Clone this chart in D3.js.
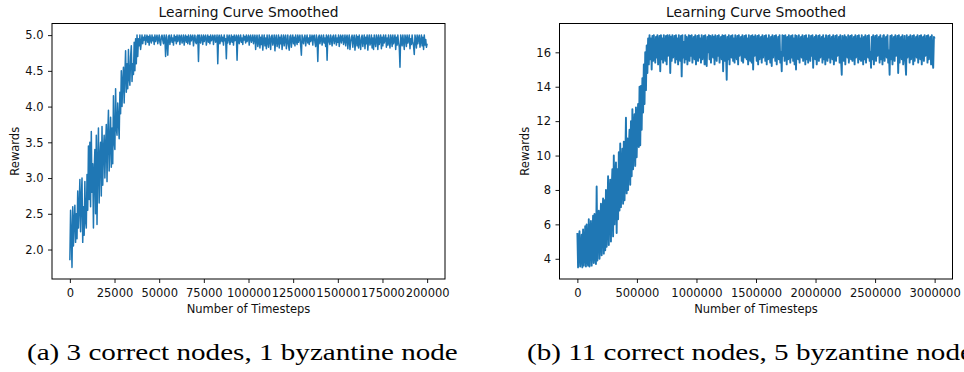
<!DOCTYPE html>
<html>
<head>
<meta charset="utf-8">
<script src="https://cdn.jsdelivr.net/npm/d3@7"></script>
<style>
  body { margin: 0; background: #fff; }
  svg { display: block; }
</style>
</head>
<body>
<svg id="chart" width="964" height="372"></svg>
<script>
const chartTitle = 'Learning Curve Smoothed';
const xLabel = 'Number of Timesteps';
const yLabel = 'Rewards';
const captionA = '(a) 3 correct nodes, 1 byzantine node';
const captionB = '(b) 11 correct nodes, 5 byzantine nodes';

// panel (a): one reading every 400 timesteps, 0 .. 200000
const stepA = 400;
const rewardsA = [
  1.85, 2.55, 2.2, 1.75, 2.6, 2.05, 2.4, 2.62, 2.1, 2.5,
  2.15, 2.82, 2.3, 2.6, 2.98, 2.25, 2.7, 3.0, 2.1, 2.6,
  2.2, 2.95, 2.4, 2.3, 3.05, 2.55, 3.45, 2.7, 3.5, 2.6,
  3.65, 2.8, 3.2, 2.3, 3.1, 3.4, 2.5, 3.6, 2.35, 3.2,
  3.7, 2.65, 3.3, 3.5, 2.75, 3.72, 2.9, 3.4, 3.6, 3.0,
  3.45, 3.75, 2.95, 3.6, 3.95, 3.1, 3.5, 3.85, 3.15, 3.7,
  3.2, 4.15, 3.5, 3.4, 4.25, 3.7, 3.6, 4.05, 3.8, 3.55,
  4.2, 3.9, 4.5, 4.0, 4.35, 4.55, 4.05, 4.45, 4.78, 4.2,
  4.6, 4.25, 4.8, 4.4, 4.3, 4.7, 4.85, 4.35, 4.6, 4.45,
  4.9, 4.5, 4.95, 4.6, 5.0, 4.7, 4.95, 4.85, 5.0, 4.8,
  4.9, 5.0, 4.88, 4.97, 4.93, 5.0, 4.87, 4.95, 5.0, 4.9,
  4.98, 4.86, 5.0, 4.94, 4.89, 5.0, 4.92, 4.97, 4.87, 5.0,
  4.91, 4.96, 5.0, 4.88, 4.94, 5.0, 4.9, 4.86, 4.98, 5.0,
  4.93, 4.88, 5.0, 4.95, 4.7, 5.0, 4.9, 4.72, 4.98, 5.0,
  4.87, 4.94, 5.0, 4.9, 4.96, 4.86, 5.0, 4.92, 4.98, 4.88,
  5.0, 4.91, 4.95, 5.0, 4.87, 4.97, 5.0, 4.89, 4.93, 5.0,
  4.86, 4.96, 5.0, 4.9, 4.98, 4.88, 5.0, 4.94, 4.87, 5.0,
  4.92, 4.97, 5.0, 4.85, 4.95, 5.0, 4.9, 4.88, 4.98, 5.0,
  4.63, 5.0, 4.93, 4.89, 5.0, 4.96, 4.87, 5.0, 4.91, 4.97,
  5.0, 4.86, 4.94, 5.0, 4.9, 4.98, 4.88, 5.0, 4.92, 4.95,
  5.0, 4.87, 4.97, 5.0, 4.9, 4.93, 5.0, 4.6, 4.96, 5.0,
  4.88, 4.94, 5.0, 4.91, 4.97, 4.86, 5.0, 4.92, 4.95, 4.67,
  5.0, 4.89, 4.96, 5.0, 4.87, 4.93, 5.0, 4.9, 4.98, 4.86,
  5.0, 4.92, 4.95, 5.0, 4.65, 4.97, 5.0, 4.88, 4.94, 5.0,
  4.9, 4.96, 4.87, 5.0, 4.93, 4.98, 4.89, 5.0, 4.91, 4.95,
  5.0, 4.86, 4.97, 5.0, 4.9, 4.94, 5.0, 4.88, 4.96, 5.0,
  4.8, 4.95, 5.0, 4.84, 4.9, 5.0, 4.82, 4.97, 4.87, 5.0,
  4.79, 4.93, 5.0, 4.85, 4.96, 4.81, 5.0, 4.9, 4.83, 5.0,
  4.94, 4.8, 4.98, 5.0, 4.86, 4.92, 5.0, 4.78, 4.95, 5.0,
  4.84, 4.9, 5.0, 4.82, 4.97, 4.88, 5.0, 4.8, 4.93, 5.0,
  4.85, 4.96, 5.0, 4.81, 4.91, 5.0, 4.86, 4.79, 4.98, 5.0,
  4.83, 4.94, 5.0, 4.88, 4.97, 4.85, 5.0, 4.92, 4.87, 5.0,
  4.9, 4.96, 5.0, 4.86, 4.72, 5.0, 4.93, 4.88, 4.97, 5.0,
  4.85, 4.94, 5.0, 4.89, 4.96, 4.87, 5.0, 4.91, 4.95, 5.0,
  4.86, 4.98, 5.0, 4.9, 4.84, 5.0, 4.93, 4.63, 4.97, 5.0,
  4.88, 4.95, 5.0, 4.86, 4.92, 5.0, 4.89, 4.96, 4.84, 5.0,
  4.65, 4.97, 5.0, 4.9, 4.87, 5.0, 4.94, 4.85, 4.98, 5.0,
  4.88, 4.93, 5.0, 4.86, 4.96, 4.9, 5.0, 4.84, 4.95, 5.0,
  4.89, 4.97, 5.0, 4.87, 4.92, 5.0, 4.85, 4.96, 5.0, 4.81,
  4.94, 5.0, 4.8, 4.9, 4.97, 5.0, 4.83, 4.95, 5.0, 4.79,
  4.92, 5.0, 4.85, 4.98, 4.82, 5.0, 4.9, 4.8, 4.96, 5.0,
  4.84, 4.93, 5.0, 4.81, 4.97, 4.88, 5.0, 4.79, 4.94, 5.0,
  4.86, 4.9, 5.0, 4.82, 4.96, 4.8, 5.0, 4.91, 4.84, 5.0,
  4.95, 4.8, 5.0, 4.87, 4.93, 5.0, 4.81, 4.97, 4.85, 5.0,
  4.89, 4.94, 5.0, 4.83, 4.96, 4.86, 5.0, 4.9, 4.82, 5.0,
  4.95, 4.84, 5.0, 4.88, 4.93, 5.0, 4.8, 4.97, 4.86, 5.0,
  4.9, 4.83, 4.55, 5.0, 4.94, 4.85, 5.0, 4.91, 4.8, 5.0,
  4.96, 4.84, 5.0, 4.89, 4.93, 5.0, 4.81, 4.95, 4.87, 5.0,
  4.9, 4.85, 4.73, 5.0, 4.94, 4.82, 5.0, 4.88, 4.96, 5.0,
  4.83, 4.92, 5.0, 4.85, 4.97, 4.8, 5.0, 4.86, 4.94, 4.83,
  4.88
];
const xTicksA = [0, 25000, 50000, 75000, 100000, 125000, 150000, 175000, 200000];
const yTicksA = [2.0, 2.5, 3.0, 3.5, 4.0, 4.5, 5.0];

// panel (b): one reading every 6000 timesteps, 0 .. 3000000
const stepB = 6000;
const rewardsB = [
  5.5, 3.5, 4.8, 5.6, 3.55, 4.2, 5.4, 3.5, 5.7, 3.6,
  4.5, 5.9, 3.55, 6.0, 4.1, 3.6, 6.3, 3.55, 5.2, 6.2,
  3.6, 4.8, 6.5, 3.75, 6.6, 4.4, 3.7, 8.2, 3.9, 6.0,
  6.8, 4.0, 5.5, 7.2, 4.2, 6.3, 7.5, 4.3, 7.4, 4.5,
  8.0, 4.7, 6.5, 8.8, 4.8, 7.5, 8.6, 5.0, 8.0, 9.2,
  5.3, 10.0, 6.0, 8.5, 9.6, 5.5, 9.2, 6.3, 10.2, 6.8,
  10.7, 7.0, 9.0, 10.4, 7.2, 10.8, 7.4, 9.5, 12.2, 7.8,
  11.0, 8.0, 10.5, 11.5, 8.3, 12.0, 8.8, 12.7, 9.2, 11.5,
  12.4, 9.4, 12.8, 9.9, 11.8, 13.0, 10.5, 14.0, 10.6, 14.05,
  11.5, 14.5, 12.5, 15.3, 13.0, 16.0, 13.8, 16.4, 14.8, 16.8,
  15.3, 17.0, 15.6, 16.8, 15.0, 16.95, 15.5, 17.0, 16.0, 15.4,
  16.9, 15.7, 17.0, 15.3, 16.5, 16.95, 14.9, 17.0, 15.6, 16.8,
  15.4, 17.0, 16.1, 15.5, 16.95, 15.3, 17.0, 15.8, 16.4, 17.0,
  14.8, 16.9, 15.5, 17.0, 15.7, 16.3, 16.95, 15.4, 17.0, 15.6,
  16.8, 15.3, 17.0, 16.0, 15.5, 16.95, 14.6, 17.0, 15.7, 16.6,
  15.4, 17.0, 15.6, 16.9, 15.3, 16.2, 17.0, 15.5, 16.95, 15.8,
  17.0, 15.4, 16.5, 16.9, 15.6, 17.0, 15.3, 16.1, 16.95, 15.5,
  17.0, 15.7, 16.8, 15.4, 17.0, 15.6, 16.3, 16.95, 15.3, 17.0,
  15.5, 15.2, 16.9, 16.0, 17.0, 15.6, 16.95, 15.4, 16.6, 17.0,
  15.7, 16.9, 15.3, 17.0, 16.2, 15.5, 16.95, 15.8, 17.0, 15.4,
  16.5, 16.9, 15.6, 17.0, 14.9, 16.95, 15.5, 17.0, 16.0, 14.4,
  16.9, 15.6, 17.0, 15.3, 16.4, 16.95, 15.7, 17.0, 15.5, 16.8,
  15.4, 17.0, 16.1, 15.6, 16.95, 15.3, 17.0, 15.8, 16.6, 16.9,
  15.5, 17.0, 15.4, 16.3, 16.95, 15.7, 17.0, 15.6, 16.8, 15.3,
  17.0, 16.0, 15.5, 16.95, 15.4, 17.0, 15.0, 16.9, 15.8, 17.0,
  16.2, 15.5, 16.95, 15.3, 17.0, 15.6, 16.6, 16.9, 15.4, 17.0,
  15.7, 16.4, 16.95, 15.5, 17.0, 15.3, 16.8, 15.6, 17.0, 16.1,
  15.4, 16.9, 15.2, 17.0, 15.7, 16.5, 16.95, 15.5, 17.0, 15.3,
  16.3, 16.9, 15.6, 17.0, 15.4, 16.0, 14.9, 17.0, 15.8, 16.95,
  15.5, 17.0, 16.6, 15.3, 16.9, 15.6, 17.0, 16.2, 15.4, 16.95,
  15.7, 17.0, 15.5, 16.8, 15.3, 17.0, 15.0, 16.95, 16.1, 15.6,
  17.0, 15.4, 16.5, 16.9, 15.7, 17.0, 15.5, 16.3, 16.95, 15.3,
  17.0, 15.6, 16.8, 15.4, 17.0, 16.0, 15.5, 16.95, 15.8, 17.0,
  15.1, 16.6, 16.9, 15.6, 17.0, 15.3, 16.2, 16.95, 15.5, 17.0,
  15.7, 16.4, 16.9, 15.4, 17.0, 15.6, 16.8, 15.3, 17.0, 16.1,
  15.5, 16.95, 15.7, 17.0, 15.4, 16.5, 16.9, 15.6, 17.0, 15.3,
  16.3, 16.95, 15.5, 17.0, 15.8, 16.0, 16.9, 15.4, 17.0, 15.6,
  14.7, 16.95, 16.6, 15.5, 17.0, 15.3, 16.9, 16.2, 15.7, 17.0,
  15.4, 16.8, 16.95, 15.6, 17.0, 15.5, 16.4, 16.9, 15.3, 17.0,
  15.7, 16.1, 16.95, 15.4, 17.0, 15.6, 16.8, 15.5, 17.0, 16.3,
  15.3, 16.9, 15.6, 17.0, 15.4, 16.5, 16.95, 15.7, 17.0, 15.5,
  16.0, 15.1, 16.9, 15.6, 17.0, 15.3, 16.6, 16.95, 15.5, 17.0,
  15.8, 16.2, 16.9, 15.4, 17.0, 15.6, 16.8, 15.3, 16.95, 17.0,
  15.5, 16.4, 16.9, 15.7, 17.0, 15.4, 16.1, 14.7, 16.95, 15.6,
  17.0, 15.3, 16.5, 16.9, 15.5, 17.0, 15.8, 16.3, 16.95, 14.8,
  17.0, 15.4, 16.6, 16.9, 15.6, 17.0, 15.3, 16.0, 16.95, 15.5,
  14.7, 17.0, 15.7, 16.8, 16.9, 15.4, 17.0, 15.6, 16.2, 16.95,
  15.3, 17.0, 15.5, 16.5, 16.9, 15.7, 17.0, 15.4, 16.4, 16.95,
  15.6, 17.0, 15.3, 16.8, 16.9, 15.5, 17.0, 15.8, 16.1, 16.95,
  15.4, 17.0, 15.6, 16.6, 16.9, 15.3, 17.0, 15.5, 15.1, 16.9,
  16.8
];
const xTicksB = [0, 500000, 1000000, 1500000, 2000000, 2500000, 3000000];
const yTicksB = [4, 6, 8, 10, 12, 14, 16];

const lineColor = '#1f77b4';
const sansFont = '"DejaVu Sans", sans-serif';
const serifFont = '"Liberation Serif", "Times New Roman", serif';
const tickFont = 11.5;

const svg = d3.select('#chart');

const drawPanel = (cfg) => {
  const { box, step, values, xTicks, yTicks, yFormat, yLabelX, lineWidth } = cfg;
  const data = values.map((v, i) => ({ t: i * step, v }));

  // matplotlib-style 5% margins around the data
  const [tMin, tMax] = d3.extent(data, (d) => d.t);
  const [vMin, vMax] = d3.extent(data, (d) => d.v);
  const tPad = (tMax - tMin) * 0.05;
  const vPad = (vMax - vMin) * 0.05;

  const xScale = d3.scaleLinear().domain([tMin - tPad, tMax + tPad]).range([box.left, box.right]);
  const yScale = d3.scaleLinear().domain([vMin - vPad, vMax + vPad]).range([box.bottom, box.top]);

  const g = svg.append('g');

  const line = d3
    .line()
    .x((d) => xScale(d.t))
    .y((d) => yScale(d.v));

  g.append('path')
    .datum(data)
    .attr('fill', 'none')
    .attr('stroke', lineColor)
    .attr('stroke-width', lineWidth)
    .attr('stroke-linejoin', 'round')
    .attr('d', line);

  const xAxis = d3.axisBottom(xScale).tickValues(xTicks).tickFormat(d3.format('d')).tickSize(4).tickPadding(5.5);
  const yAxis = d3.axisLeft(yScale).tickValues(yTicks).tickFormat(d3.format(yFormat)).tickSize(4).tickPadding(4.5);

  const gx = g.append('g').attr('transform', `translate(0,${box.bottom})`).call(xAxis);
  const gy = g.append('g').attr('transform', `translate(${box.left},0)`).call(yAxis);

  [gx, gy].forEach((ax) => {
    ax.select('.domain').remove();
    ax.selectAll('line').attr('stroke', '#000').attr('stroke-width', 0.9);
    ax.selectAll('text').attr('fill', '#111').style('font-family', sansFont).style('font-size', tickFont + 'px');
  });

  g.append('rect')
    .attr('x', box.left)
    .attr('y', box.top)
    .attr('width', box.right - box.left)
    .attr('height', box.bottom - box.top)
    .attr('fill', 'none')
    .attr('stroke', '#000')
    .attr('stroke-width', 1);

  const midX = (box.left + box.right) / 2;

  g.append('text')
    .attr('x', midX)
    .attr('y', 17.3)
    .attr('text-anchor', 'middle')
    .style('font-family', sansFont)
    .style('font-size', '13.8px')
    .attr('fill', '#111')
    .text(chartTitle);

  g.append('text')
    .attr('x', midX)
    .attr('y', 312.5)
    .attr('text-anchor', 'middle')
    .style('font-family', sansFont)
    .style('font-size', tickFont + 'px')
    .attr('fill', '#111')
    .text(xLabel);

  g.append('text')
    .attr('transform', `translate(${yLabelX},${(box.top + box.bottom) / 2}) rotate(-90)`)
    .attr('text-anchor', 'middle')
    .style('font-family', sansFont)
    .style('font-size', tickFont + 'px')
    .attr('fill', '#111')
    .text(yLabel);
};

drawPanel({
  box: { left: 52, right: 445, top: 23.5, bottom: 279 },
  step: stepA,
  values: rewardsA,
  xTicks: xTicksA,
  yTicks: yTicksA,
  yFormat: '.1f',
  yLabelX: 18.5,
  lineWidth: 1.5
});

// the original run logged far more episodes, so its trace reads as a solid band
drawPanel({
  box: { left: 559.5, right: 952.5, top: 23.5, bottom: 279 },
  step: stepB,
  values: rewardsB,
  xTicks: xTicksB,
  yTicks: yTicksB,
  yFormat: 'd',
  yLabelX: 529,
  lineWidth: 1.9
});

// LaTeX-style subcaptions, widened to the reference's Computer Modern width
const capA = svg.append('text')
  .attr('x', 27).attr('y', 360)
  .style('font-family', serifFont)
  .style('font-size', '24px')
  .attr('fill', '#000')
  .text(captionA);

const naturalWidth = capA.node().getComputedTextLength();
const stretch = 431 / naturalWidth;
capA.attr('transform', `translate(27,360) scale(${stretch},1) translate(-27,-360)`);

svg.append('text')
  .attr('x', 527).attr('y', 360)
  .style('font-family', serifFont)
  .style('font-size', '24px')
  .attr('fill', '#000')
  .attr('transform', `translate(527,360) scale(${stretch},1) translate(-527,-360)`)
  .text(captionB);
</script>
</body>
</html>
